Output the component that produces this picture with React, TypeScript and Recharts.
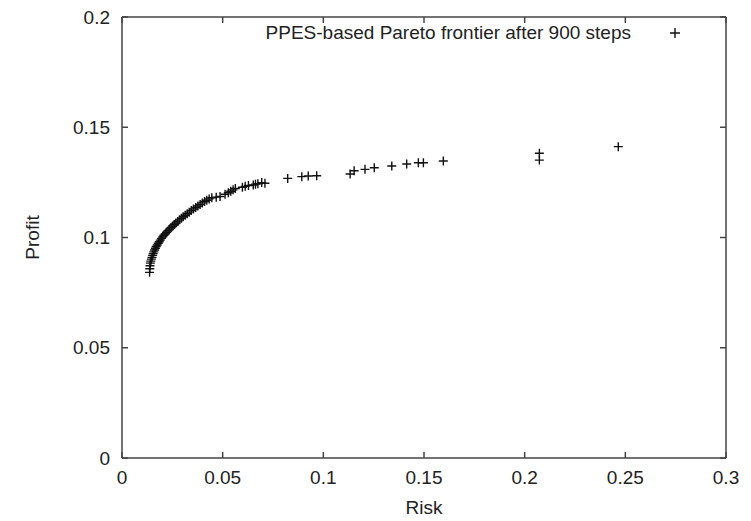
import React from 'react';
import { ScatterChart, Scatter, XAxis, YAxis, Legend, Label } from 'recharts';

const risk = [
  0.0137, 0.0138, 0.0139, 0.0141, 0.0143, 0.0146, 0.0149, 0.0152, 0.0155, 0.0158,
  0.0162, 0.0166, 0.0170, 0.0175, 0.0180, 0.0185, 0.0190, 0.0196, 0.0202, 0.0208,
  0.0215, 0.0222, 0.0229, 0.0236, 0.0244, 0.0252, 0.0260, 0.0268, 0.0277, 0.0286,
  0.0295, 0.0304, 0.0314, 0.0324, 0.0334, 0.0344, 0.0355, 0.0366, 0.0377, 0.0388,
  0.0399, 0.0410, 0.0421, 0.0433, 0.0446, 0.0468, 0.0487, 0.0512, 0.0528, 0.0540,
  0.0552, 0.0563, 0.0598, 0.0612, 0.0628, 0.0652, 0.0663, 0.0675, 0.0694, 0.0710,
  0.0823, 0.0893, 0.0925, 0.0967, 0.1133, 0.1153, 0.1207, 0.1253, 0.1340, 0.1414,
  0.1472, 0.1497, 0.1596, 0.2073, 0.2073, 0.2465,
];

const profit = [
  0.0842, 0.0858, 0.0872, 0.0884, 0.0893, 0.0902, 0.0910, 0.0919, 0.0927, 0.0935,
  0.0943, 0.0951, 0.0959, 0.0966, 0.0974, 0.0981, 0.0988, 0.0996, 0.1003, 0.1010,
  0.1017, 0.1024, 0.1031, 0.1038, 0.1045, 0.1052, 0.1059, 0.1066, 0.1073, 0.1080,
  0.1087, 0.1094, 0.1101, 0.1108, 0.1115, 0.1122, 0.1129, 0.1136, 0.1143, 0.1150,
  0.1157, 0.1163, 0.1169, 0.1175, 0.1180, 0.1183, 0.1186, 0.1196, 0.1203, 0.1210,
  0.1216, 0.1222, 0.1228, 0.1232, 0.1236, 0.1238, 0.1242, 0.1244, 0.1249, 0.1246,
  0.1268, 0.1276, 0.1279, 0.1280, 0.1288, 0.1303, 0.1309, 0.1316, 0.1324, 0.1333,
  0.1339, 0.1339, 0.1347, 0.1351, 0.1382, 0.1412,
];

const xTicks = [0, 0.05, 0.1, 0.15, 0.2, 0.25, 0.3];
const yTicks = [0, 0.05, 0.1, 0.15, 0.2];
const seriesName = 'PPES-based Pareto frontier after 900 steps';
const xTitle = 'Risk';
const yTitle = 'Profit';

const data = risk.map((r, i) => ({ risk: r, profit: profit[i] }));

const FONT = '"Liberation Sans", Arial, Helvetica, sans-serif';
const AXIS = '#444';
const TEXT = '#222';

const Plus = (props: any) => {
  const { cx, cy } = props;
  if (cx == null || cy == null) return <g />;
  return (
    <path
      d={`M${cx - 4.5},${cy}H${cx + 4.5}M${cx},${cy - 4.5}V${cy + 4.5}`}
      stroke="#111"
      strokeWidth={1.4}
      fill="none"
    />
  );
};

const Empty = () => <g />;

const LegendContent = () => (
  <div
    style={{
      display: 'flex',
      alignItems: 'center',
      fontFamily: FONT,
      fontSize: 19,
      color: TEXT,
      lineHeight: '22px',
      whiteSpace: 'nowrap',
    }}
  >
    <span>{seriesName}</span>
    <svg width={10} height={10} style={{ marginLeft: 39 }}>
      <path d="M0,5H10M5,0V10" stroke="#111" strokeWidth={1.4} />
    </svg>
  </div>
);

const tickStyle = { fill: TEXT, fontSize: 19, fontFamily: FONT };

export default function App() {
  return (
    <div style={{ position: 'absolute', left: 0, top: 0, width: 751, height: 521, background: '#fff' }}>
      <ScatterChart width={751} height={521} margin={{ top: 16, right: 24, bottom: 0, left: 0 }}>
        <XAxis
          xAxisId="b"
          type="number"
          dataKey="risk"
          domain={[0, 0.3]}
          ticks={xTicks}
          orientation="bottom"
          height={63}
          tickSize={-6}
          tickMargin={19}
          stroke={AXIS}
          strokeWidth={1.5}
          tick={tickStyle}
          allowDataOverflow
        >
          <Label
            content={(p: any) => {
              const vb = p.viewBox || {};
              const x = vb.x + vb.width / 2;
              const y = vb.y + vb.height - 7;
              return (
                <text x={x} y={y} textAnchor="middle" fill={TEXT} fontSize={19} fontFamily={FONT}>
                  {xTitle}
                </text>
              );
            }}
          />
        </XAxis>
        <XAxis
          xAxisId="t"
          type="number"
          dataKey="risk"
          domain={[0, 0.3]}
          ticks={xTicks}
          orientation="top"
          height={1}
          tickSize={-6}
          tickFormatter={() => ''}
          stroke={AXIS}
          strokeWidth={1.5}
          allowDataOverflow
        />
        <YAxis
          yAxisId="l"
          type="number"
          dataKey="profit"
          domain={[0, 0.2]}
          ticks={yTicks}
          width={122}
          tickSize={-6}
          tickMargin={18}
          stroke={AXIS}
          strokeWidth={1.5}
          tick={tickStyle}
          allowDataOverflow
        >
          <Label
            content={(p: any) => {
              const vb = p.viewBox || {};
              const x = vb.x + 32;
              const y = vb.y + vb.height / 2;
              return (
                <text
                  x={x}
                  y={y}
                  transform={`rotate(-90 ${x} ${y})`}
                  textAnchor="middle"
                  dominantBaseline="central"
                  fill={TEXT}
                  fontSize={19}
                  fontFamily={FONT}
                >
                  {yTitle}
                </text>
              );
            }}
          />
        </YAxis>
        <YAxis
          yAxisId="r"
          type="number"
          dataKey="profit"
          domain={[0, 0.2]}
          ticks={yTicks}
          orientation="right"
          width={1}
          tickSize={-6}
          tickFormatter={() => ''}
          stroke={AXIS}
          strokeWidth={1.5}
          allowDataOverflow
        />
        <Scatter
          xAxisId="t"
          yAxisId="r"
          data={data}
          shape={Empty}
          legendType="none"
          isAnimationActive={false}
        />
        <Scatter
          xAxisId="b"
          yAxisId="l"
          name={seriesName}
          data={data}
          shape={Plus}
          isAnimationActive={false}
        />
        <Legend
          layout="vertical"
          align="center"
          verticalAlign="middle"
          content={LegendContent}
          wrapperStyle={{ top: 22, right: 71, left: 'auto', bottom: 'auto', width: 'auto' }}
        />
      </ScatterChart>
    </div>
  );
}
